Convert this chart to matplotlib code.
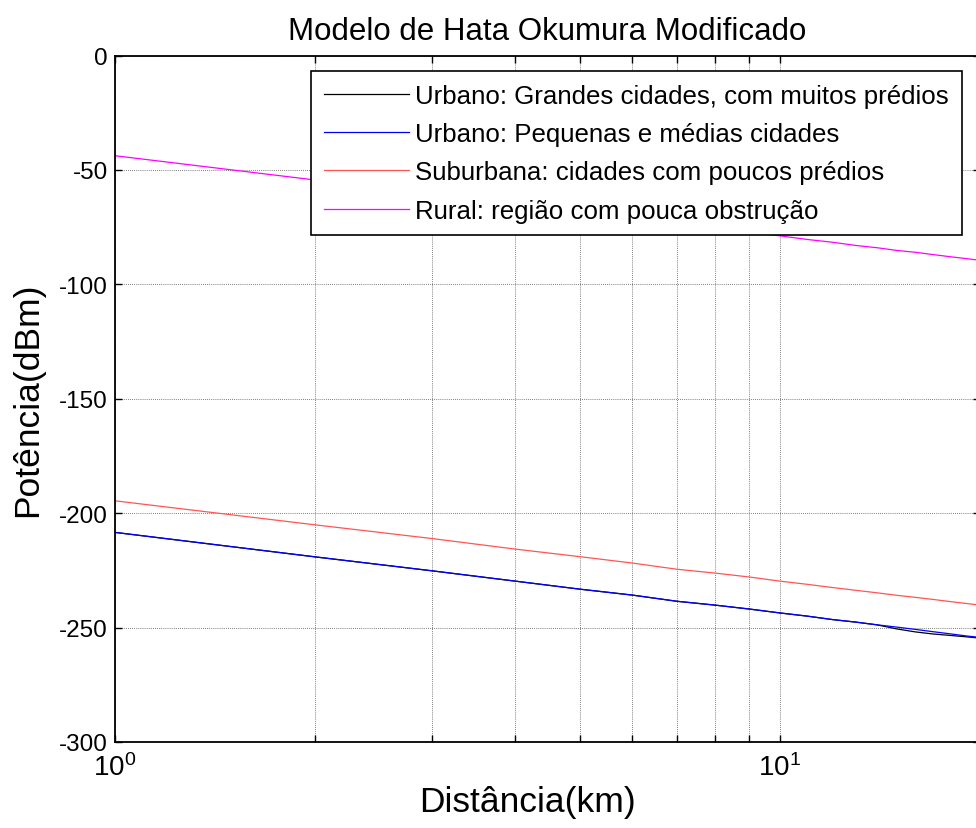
import math
import matplotlib
matplotlib.use("Agg")
import matplotlib.pyplot as plt
from matplotlib.ticker import FixedLocator, FuncFormatter, NullFormatter

plt.rcParams['font.family'] = ['Liberation Sans', 'DejaVu Sans']
plt.rcParams['mathtext.default'] = 'regular'
plt.rcParams['axes.unicode_minus'] = False

distance_km = [1, 2, 3, 4, 5, 6, 7, 8, 9, 10, 11, 12, 13, 14, 15, 16, 17, 18, 19, 20]
urban_large = [-208.4, -219.1, -225.2, -229.7, -233.2, -235.8, -238.5, -240.2, -241.9, -243.6,
               -245.0, -246.5, -247.6, -248.8, -250.6, -251.9, -252.8, -253.4, -254.0, -254.6]
urban_small = [-208.4, -219.1, -225.2, -229.7, -233.2, -235.8, -238.5, -240.2, -241.9, -243.6,
               -245.0, -246.5, -247.6, -248.8, -249.8, -250.8, -251.8, -252.7, -253.6, -254.3]
suburban = [-194.6, -205.1, -211.1, -215.7, -219.0, -221.8, -224.5, -226.2, -227.9, -229.7,
            -231.1, -232.5, -233.7, -234.8, -235.9, -236.8, -237.7, -238.6, -239.4, -240.2]
rural = [-43.8, -54.4, -60.4, -64.8, -68.3, -71.1, -73.7, -75.6, -77.2, -78.8,
         -80.4, -81.6, -83.0, -84.0, -85.2, -86.0, -87.0, -87.9, -88.7, -89.5]

labels = ["Urbano: Grandes cidades, com muitos prédios",
          "Urbano: Pequenas e médias cidades",
          "Suburbana: cidades com poucos prédios",
          "Rural: região com pouca obstrução"]
colors = ["#000000", "#0000FF", "#FF5555", "#FF00FF"]
yticks = [0, -50, -100, -150, -200, -250, -300]

W, H = 976, 829
fig = plt.figure(figsize=(W / 100, H / 100), dpi=100)
left, right = 115 / W, 980 / W
top, bottom = 1 - 56.5 / H, 1 - 743 / H
ax = fig.add_axes([left, bottom, right - left, top - bottom])

series = [urban_large, urban_small, suburban, rural]
for vals, c, lab in zip(series, colors, labels):
    ax.plot(distance_km, vals, color=c, lw=0.9, label=lab)

ax.set_xscale('log')
ax.set_xlim(1, 20)
ax.set_ylim(-300, 0)
ax.set_yticks(yticks)
ax.yaxis.set_major_formatter(FuncFormatter(lambda v, p: f"{int(v)}"))
ax.xaxis.set_major_locator(FixedLocator([1, 10]))
ax.xaxis.set_major_formatter(FuncFormatter(lambda v, p: r"$10^{%d}$" % round(math.log10(v))))
ax.xaxis.set_minor_locator(FixedLocator([2, 3, 4, 5, 6, 7, 8, 9, 20]))
ax.xaxis.set_minor_formatter(NullFormatter())

ax.grid(True, which='major', axis='both', color='#555555', ls=(0, (1, 1.5)), lw=0.6)
ax.grid(True, which='minor', axis='x', color='#555555', ls=(0, (1, 1.5)), lw=0.6)

ax.tick_params(axis='both', which='both', direction='in', top=True, right=True,
               length=5, width=1.0, color='black')
ax.tick_params(axis='y', labelsize=17.5, pad=5)
ax.tick_params(axis='x', which='major', labelsize=20, pad=8)
for s in ax.spines.values():
    s.set_linewidth(1.3)

ax.set_title("Modelo de Hata Okumura Modificado", fontsize=22.5, pad=12)
ax.set_xlabel("Distância(km)", fontsize=25.5)
ax.set_ylabel("Potência(dBm)", fontsize=25.5)
ax.xaxis.set_label_coords((527 - 115) / (980 - 115), -0.062)
ax.yaxis.set_label_coords((44 - 115) / (980 - 115), 0.5)

leg = ax.legend(loc='upper right', bbox_to_anchor=(962 / W, 1 - 72 / H),
                bbox_transform=fig.transFigure, borderaxespad=0, fontsize=18.6,
                handlelength=3.3, handletextpad=0.25, labelspacing=0.55,
                borderpad=0.5, fancybox=False, framealpha=1, edgecolor='black')
leg.get_frame().set_linewidth(1.2)

fig.savefig("out.png", dpi=100)
